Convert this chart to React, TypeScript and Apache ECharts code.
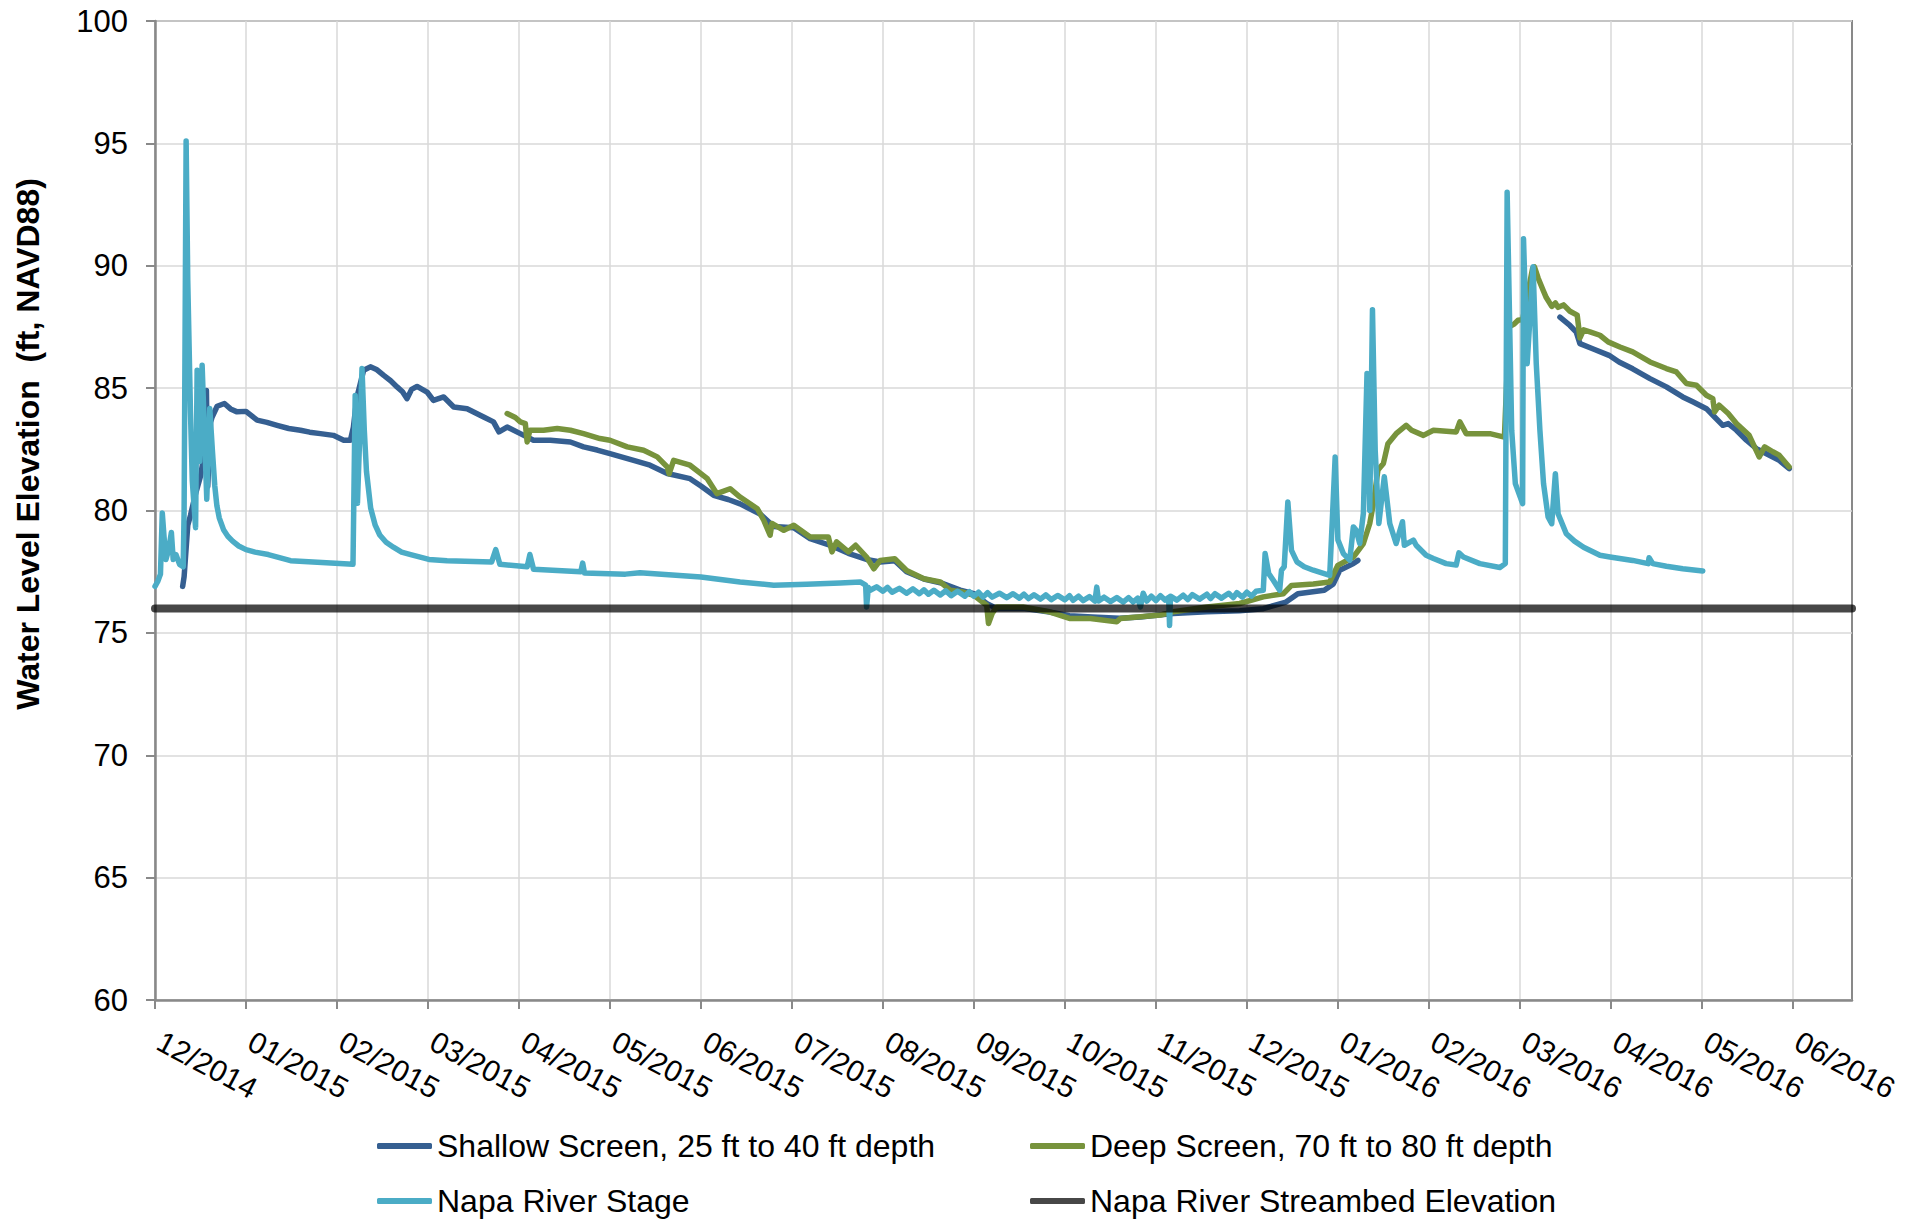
import React, { useEffect, useRef } from "react";
import * as echarts from "echarts";

// X positions are in months counted from the 12/2014 tick (one unit = one tick interval)
const monthLabels = [
  "12/2014", "01/2015", "02/2015", "03/2015", "04/2015", "05/2015", "06/2015",
  "07/2015", "08/2015", "09/2015", "10/2015", "11/2015", "12/2015", "01/2016",
  "02/2016", "03/2016", "04/2016", "05/2016", "06/2016",
];
const monthTicks = [0, 1, 2, 3, 4, 5, 6, 7, 8, 9, 10, 11, 12, 13, 14, 15, 16, 17, 18];

const shallowMonths = [
  0.304, 0.32, 0.36, 0.39, 0.44, 0.5, 0.55, 0.565, 0.58, 0.61, 0.628, 0.683, 0.763, 0.83, 0.902, 1.0,
  1.122, 1.23, 1.342, 1.47, 1.598, 1.7, 1.818, 1.96, 2.074, 2.147, 2.18, 2.22, 2.293, 2.367, 2.44, 2.514, 2.59, 2.66, 2.72, 2.77, 2.82, 2.88,
  2.99, 3.06, 3.173, 3.283, 3.43, 3.612, 3.72, 3.78, 3.87, 4.015, 4.16, 4.345, 4.565, 4.71, 4.86, 5.0,
  5.26, 5.44, 5.63, 5.88, 6.0, 6.14, 6.3, 6.43, 6.65, 6.8, 7.02, 7.2, 7.44, 7.62, 7.82, 7.97, 8.13, 8.26,
  8.45, 8.63, 8.85, 9.0, 9.14, 9.25, 9.54, 9.83, 10.05, 10.3, 10.6, 10.83, 11.19, 11.56, 11.92,
  12.18, 12.43, 12.56, 12.85, 12.95, 13.02, 13.17, 13.22, 13.3,
  15.44, 15.55, 15.62, 15.66, 15.8, 15.98, 16.09, 16.24, 16.43, 16.61, 16.79, 16.9, 17.05, 17.14,
  17.23, 17.29, 17.38, 17.49, 17.6, 17.71, 17.85, 17.96,
];
const shallowLevels = [
  76.9, 77.3, 79.4, 79.8, 80.6, 81.4, 82.5, 84.9, 81.0, 83.6, 83.82, 84.26, 84.37, 84.15, 84.03, 84.05,
  83.69, 83.6, 83.48, 83.35, 83.28, 83.2, 83.14, 83.07, 82.87, 82.87, 83.4, 84.64, 85.73, 85.87, 85.75, 85.52, 85.3, 85.05, 84.85, 84.57, 84.95, 85.07,
  84.84, 84.5, 84.64, 84.23, 84.16, 83.82, 83.62, 83.21, 83.41, 83.14, 82.87, 82.87, 82.8, 82.6, 82.47, 82.32,
  82.05, 81.85, 81.51, 81.3, 81.0, 80.62, 80.45, 80.27, 79.86, 79.35, 79.3, 78.85, 78.55, 78.25, 78.0, 77.9, 77.95, 77.5,
  77.2, 77.05, 76.75, 76.6, 76.2, 76.0, 76.0, 75.85, 75.7, 75.65, 75.6, 75.65, 75.79, 75.86, 75.9,
  75.99, 76.26, 76.6, 76.74, 77.0, 77.56, 77.83, 77.96, null,
  87.9, 87.56, 87.29, 86.82, 86.61, 86.34, 86.07, 85.79, 85.39, 85.05, 84.64, 84.44, 84.16, 83.82,
  83.48, 83.55, 83.28, 82.87, 82.53, 82.32, 82.05, 81.71,
];

const deepMonths = [
  3.87, 3.96, 4.015, 4.07, 4.09, 4.12, 4.27, 4.42, 4.565, 4.71, 4.89, 5.0, 5.19, 5.37, 5.52, 5.63,
  5.65, 5.7, 5.88, 6.07, 6.175, 6.32, 6.43, 6.62, 6.69, 6.76, 6.78, 6.91, 7.02, 7.2, 7.4, 7.44, 7.49,
  7.62, 7.7, 7.82, 7.9, 7.97, 8.13, 8.26, 8.45, 8.63, 8.74, 8.88, 9.0, 9.14, 9.16, 9.2, 9.25, 9.54,
  9.83, 10.05, 10.28, 10.57, 10.61, 10.83, 11.05, 11.19, 11.56, 11.92, 12.18, 12.4, 12.49, 12.73,
  12.91, 13.0, 13.17, 13.28, 13.35, 13.39, 13.44, 13.5, 13.55, 13.64, 13.75, 13.81, 13.94, 14.05,
  14.3, 14.34, 14.41, 14.67, 14.83, 14.88, 14.94, 14.98, 15.03, 15.14, 15.16, 15.2, 15.26, 15.29,
  15.35, 15.39, 15.42, 15.48, 15.55, 15.63, 15.66, 15.7, 15.77, 15.88, 15.97, 16.1, 16.24, 16.43,
  16.61, 16.72, 16.83, 16.94, 17.05, 17.12, 17.14, 17.19, 17.29, 17.38, 17.52, 17.63, 17.69, 17.78,
  17.85, 17.96,
];
const deepLevels = [
  83.96, 83.8, 83.62, 83.55, 82.8, 83.28, 83.28, 83.35, 83.28, 83.14, 82.94, 82.87, 82.6, 82.46, 82.19, 81.78,
  81.5, 82.05, 81.85, 81.3, 80.69, 80.89, 80.55, 80.07, 79.6, 78.99, 79.47, 79.19, 79.4, 78.92, 78.92, 78.31, 78.72,
  78.31, 78.58, 78.1, 77.62, 77.96, 78.03, 77.55, 77.21, 77.08, 76.74, 76.67, 76.53, 76.13, 75.38, 75.79, 76.06, 76.06,
  75.86, 75.59, 75.59, 75.45, 75.59, 75.66, 75.73, 75.86, 76.06, 76.2, 76.47, 76.6, 76.94, 77.0,
  77.08, 77.76, 78.1, 78.65, 79.47, 80.28, 81.65, 81.92, 82.73, 83.14, 83.48, 83.28, 83.07, 83.28,
  83.21, 83.62, 83.14, 83.14, 83.0, 87.5, 87.63, 87.77, 87.8, 89.9, 89.95, 89.5, 88.96, 88.7,
  88.34, 88.48, 88.3, 88.4, 88.14, 87.98, 87.05, 87.38, 87.3, 87.16, 86.89, 86.68, 86.48, 86.07,
  85.8, 85.66, 85.19, 85.12, 84.71, 84.57, 84.03, 84.3, 83.96, 83.55, 83.07, 82.19, 82.6, 82.4,
  82.26, 81.78,
];

const stageMonths = [
  0, 0.03, 0.06, 0.08, 0.1, 0.12, 0.15, 0.18, 0.2, 0.23, 0.27, 0.31, 0.32, 0.342, 0.36, 0.39, 0.41,
  0.446, 0.463, 0.49, 0.518, 0.569, 0.602, 0.63, 0.657, 0.68, 0.706, 0.755, 0.8, 0.853, 0.92, 1.0, 1.1, 1.245, 1.49, 1.735,
  2.176, 2.2, 2.225, 2.275, 2.3, 2.324, 2.37, 2.42, 2.47, 2.54, 2.62, 2.71, 2.81, 3.01, 3.21, 3.7, 3.745, 3.79, 4.09, 4.12,
  4.16, 4.68, 4.7, 4.72, 5.17, 5.33, 6.0, 6.43, 6.8, 7.16, 7.53, 7.75, 7.81, 7.82, 7.84, 7.86,
  7.93, 8.0, 8.05, 8.1, 8.18, 8.26, 8.33, 8.4, 8.45, 8.5,
  8.56, 8.63, 8.69, 8.75, 8.82, 8.9, 8.95, 9.0, 9.05, 9.1,
  9.15, 9.2, 9.28, 9.36, 9.43, 9.5, 9.55, 9.6, 9.66, 9.73,
  9.79, 9.85, 9.92, 10.0, 10.05, 10.09, 10.15, 10.2, 10.27, 10.33,
  10.35, 10.37, 10.43, 10.5, 10.57, 10.64, 10.7, 10.75, 10.8, 10.83,
  10.86, 10.9, 10.95, 11.0, 11.05, 11.1, 11.14, 11.15, 11.16, 11.23,
  11.3, 11.35, 11.4, 11.48, 11.56, 11.6, 11.65, 11.72, 11.8, 11.85,
  11.89, 11.95, 12.0, 12.05, 12.1,
  12.18, 12.2, 12.24, 12.29, 12.36, 12.38, 12.41, 12.45, 12.49, 12.55, 12.63, 12.73, 12.91, 12.93, 12.97, 13.0, 13.06, 13.13, 13.17, 13.2, 13.24, 13.28,
  13.32, 13.35, 13.38, 13.41, 13.45, 13.51, 13.57, 13.64, 13.71, 13.73, 13.83, 13.86, 13.97, 14.05,
  14.19, 14.3, 14.33, 14.38, 14.56, 14.78, 14.84, 14.86, 14.91, 14.95, 15.03, 15.04, 15.08, 15.145,
  15.18, 15.22, 15.26, 15.31, 15.35, 15.39, 15.42, 15.51, 15.6, 15.7, 15.88, 15.99, 16.24, 16.41, 16.42,
  16.46, 16.61, 16.79, 17.01,
];
const stageLevels = [
  76.9, 77.1, 77.4, 79.9, 78.9, 78.0, 78.4, 79.1, 78.0, 78.2, 77.8, 77.7, 80.0, 95.1, 89.4, 84.0, 81.2,
  79.3, 85.73, 82.0, 85.93, 80.46, 84.17, 82.5, 81.0, 80.2, 79.7, 79.2, 78.95, 78.75, 78.55, 78.4, 78.3, 78.2, 77.95, 77.9,
  77.8, 84.7, 80.3, 85.8, 83.3, 81.6, 80.1, 79.4, 79.0, 78.7, 78.5, 78.3, 78.2, 78.0, 77.95, 77.9, 78.4, 77.8, 77.7, 78.2,
  77.6, 77.5, 77.85, 77.45, 77.4, 77.46, 77.28, 77.08, 76.95, 76.99, 77.04, 77.08, 76.95, 76.06, 76.85, 76.74,
  76.88, 76.7, 76.86, 76.66, 76.82, 76.62, 76.8, 76.6, 76.76, 76.58,
  76.74, 76.55, 76.72, 76.52, 76.7, 76.5, 76.68, 76.5, 76.66, 76.46,
  76.64, 76.46, 76.62, 76.44, 76.6, 76.42, 76.58, 76.4, 76.56, 76.38,
  76.55, 76.36, 76.53, 76.35, 76.52, 76.33, 76.5, 76.32, 76.48, 76.3,
  76.87, 76.3, 76.46, 76.28, 76.44, 76.26, 76.44, 76.26, 76.42, 76.06,
  76.62, 76.3, 76.5, 76.32, 76.52, 76.34, 76.45, 75.3, 76.5, 76.34,
  76.54, 76.36, 76.56, 76.38, 76.58, 76.4, 76.6, 76.42, 76.62, 76.44,
  76.64, 76.46, 76.66, 76.5, 76.7,
  76.74, 78.24, 77.42, 77.15, 76.74, 77.56, 77.7, 80.35, 78.37, 77.9, 77.7, 77.56, 77.35, 78.92, 82.19, 78.8, 78.24, 77.97, 79.33, 79.2, 78.65, 79.88,
  85.6, 80.0, 88.2, 82.46, 79.47, 81.38, 79.47, 78.65, 79.54, 78.58, 78.79, 78.58, 78.17, 78.04,
  77.83, 77.77, 78.27, 78.1, 77.83, 77.67, 77.83, 93.0, 83.28, 81.1, 80.28, 91.1, 86.0, 89.96,
  86.0, 83.28, 81.1, 79.74, 79.46, 81.5, 79.87, 79.05, 78.75, 78.5, 78.17, 78.1, 77.96, 77.83, 78.07,
  77.83, 77.72, 77.62, 77.53,
];

const streambedMonths = [0, 18.65];
const streambedLevels = [76.0, 76.0];

const FONT = '"Liberation Sans", Arial, Helvetica, sans-serif';
const AXIS_GRAY = "#898989";
const GRID_GRAY = "#d9d9d9";

const SHALLOW = "Shallow Screen, 25 ft to 40 ft depth";
const DEEP = "Deep Screen, 70 ft to 80 ft depth";
const STAGE = "Napa River Stage";
const BED = "Napa River Streambed Elevation";

function pairs(xs: number[], ys: (number | null)[]) {
  return xs.map((x, i) => [x, ys[i] === null || ys[i] === undefined ? NaN : ys[i]]);
}

function lineSeries(name: string, color: string, data: any[], width: number, z: number) {
  return {
    name,
    type: "line",
    data,
    color,
    showSymbol: false,
    symbol: "none",
    connectNulls: false,
    z,
    itemStyle: { color },
    lineStyle: { color, width, cap: "round", join: "round" },
    emphasis: { disabled: true },
  };
}

export default function App() {
  const ref = useRef<HTMLDivElement>(null);

  useEffect(() => {
    if (!ref.current) return;
    const chart = echarts.init(ref.current, undefined, { renderer: "svg" });

    const legendCommon = {
      orient: "horizontal",
      padding: 0,
      itemWidth: 55,
      itemHeight: 6,
      icon: "roundRect",
      selectedMode: false,
      textStyle: { fontSize: 32, color: "#000", fontFamily: FONT },
    };

    chart.setOption({
      animation: false,
      backgroundColor: "#ffffff",
      grid: {
        left: 155,
        right: 71,
        top: 21,
        bottom: 220,
        show: true,
        borderColor: AXIS_GRAY,
        borderWidth: 2,
        backgroundColor: "transparent",
      },
      xAxis: {
        type: "value",
        min: 0,
        max: 18.65,
        interval: 1,
        axisLine: { show: true, onZero: false, lineStyle: { color: AXIS_GRAY, width: 2.5 } },
        axisTick: {
          show: true,
          length: 9,
          customValues: monthTicks,
          lineStyle: { color: AXIS_GRAY, width: 2 },
        },
        splitLine: { show: true, lineStyle: { color: GRID_GRAY, width: 1.5 } },
        axisLabel: {
          customValues: monthTicks,
          rotate: -28,
          margin: 37,
          padding: [0, 0, 0, 5],
          fontSize: 30,
          color: "#000",
          fontFamily: FONT,
          formatter: (v: number) => {
            const i = Math.round(v);
            return Math.abs(v - i) < 1e-6 && i >= 0 && i < monthLabels.length ? monthLabels[i] : "";
          },
        },
      },
      yAxis: {
        type: "value",
        min: 60,
        max: 100,
        interval: 5,
        axisLine: { show: true, lineStyle: { color: AXIS_GRAY, width: 2.5 } },
        axisTick: { show: true, length: 9, lineStyle: { color: AXIS_GRAY, width: 2 } },
        splitLine: { show: true, lineStyle: { color: GRID_GRAY, width: 1.5 } },
        axisLabel: { fontSize: 31, color: "#000", fontFamily: FONT, margin: 27 },
      },
      legend: [
        { ...legendCommon, data: [SHALLOW], left: 377, top: 1130 },
        { ...legendCommon, data: [DEEP], left: 1030, top: 1130 },
        { ...legendCommon, data: [STAGE], left: 377, top: 1185 },
        { ...legendCommon, data: [BED], left: 1030, top: 1185 },
      ],
      graphic: [
        {
          type: "text",
          x: 28,
          y: 444,
          rotation: Math.PI / 2,
          style: {
            text: "Water Level Elevation  (ft, NAVD88)",
            fontSize: 32,
            fontWeight: "bold",
            fontFamily: FONT,
            fill: "#000",
            align: "center",
            verticalAlign: "middle",
          },
        },
      ],
      series: [
        lineSeries(SHALLOW, "#355f91", pairs(shallowMonths, shallowLevels), 5.5, 2),
        lineSeries(DEEP, "#77933c", pairs(deepMonths, deepLevels), 5.5, 3),
        lineSeries(STAGE, "#4bacc6", pairs(stageMonths, stageLevels), 5.5, 4),
        lineSeries(BED, "rgba(0,0,0,0.72)", pairs(streambedMonths, streambedLevels), 8, 5),
      ],
    });

    return () => chart.dispose();
  }, []);

  return (
    <div
      ref={ref}
      style={{ position: "fixed", left: 0, top: 0, width: 1923, height: 1220, background: "#fff" }}
    />
  );
}
